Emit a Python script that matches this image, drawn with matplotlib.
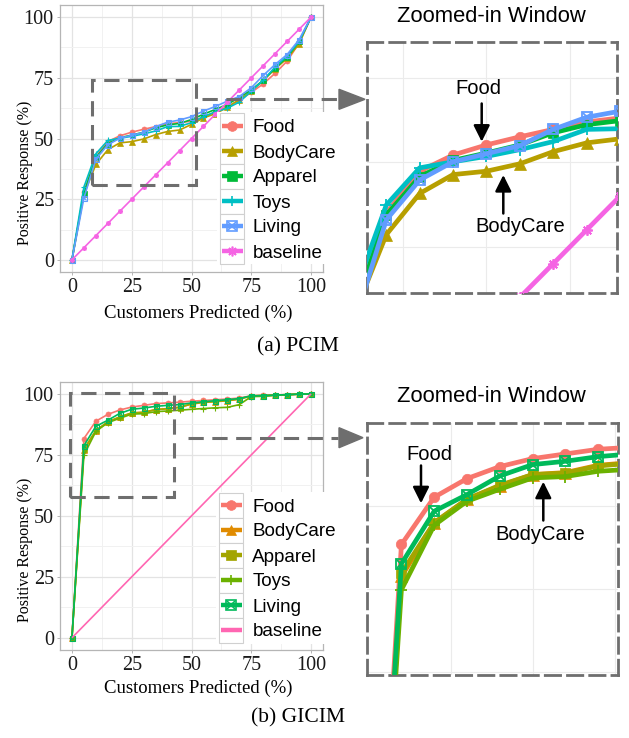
import matplotlib
matplotlib.use('Agg')
import matplotlib.pyplot as plt
from matplotlib.lines import Line2D
from matplotlib.patches import Rectangle, Polygon, FancyArrowPatch

W, H, DPI = 629, 738, 100

# ---------------- data ----------------
x_pct = [0, 5, 10, 15, 20, 25, 30, 35, 40, 45, 50, 55, 60, 65, 70, 75, 80, 85, 90, 95, 100]
series_names = ['Food', 'BodyCare', 'Apparel', 'Toys', 'Living', 'baseline']

pcim_food = [0, 28, 42.5, 48.7, 51.1, 52.6, 53.8, 54.9, 56.0, 56.6, 57.1, 58.8, 60.9, 63.2, 65.7, 69.0, 72.5, 76.9, 81.9, 89.3, 100]
pcim_bodycare = [0, 27, 39.3, 45.4, 48.2, 48.7, 49.8, 51.6, 52.9, 53.5, 55.8, 58.5, 60.2, 62.9, 66.0, 69.5, 73.9, 78.7, 83.0, 89.0, 100]
pcim_apparel = [0, 27.5, 42.2, 47.9, 50.3, 51.4, 52.6, 54.4, 55.6, 56.2, 57.8, 60.0, 62.0, 64.0, 67.0, 70.0, 74.0, 79.0, 83.5, 90.0, 100]
pcim_toys = [0, 30, 43.7, 49.2, 50.1, 50.9, 51.9, 53.1, 54.9, 55.0, 56.5, 59.0, 61.0, 62.5, 65.0, 69.5, 74.0, 79.5, 84.0, 90.0, 100]
pcim_living = [0, 25.5, 41.5, 47.4, 50.1, 51.3, 52.5, 54.9, 56.7, 57.6, 59.0, 61.3, 63.2, 65.4, 67.3, 70.9, 76.0, 80.5, 84.6, 90.7, 100]
pcim_baseline = [0, 5, 10, 15, 20, 25, 30, 35, 40, 45, 50, 55, 60, 65, 70, 75, 80, 85, 90, 95, 100]

gicim_food = [0, 81.7, 88.8, 91.6, 93.4, 94.6, 95.3, 96.0, 96.3, 96.6, 97.0, 97.3, 97.6, 97.9, 98.3, 99.2, 99.4, 99.6, 99.7, 99.9, 100]
gicim_bodycare = [0, 76.9, 84.9, 88.5, 90.5, 92.2, 92.5, 93.6, 94.0, 94.6, 95.8, 96.5, 96.8, 97.2, 97.8, 99.2, 99.3, 99.5, 99.7, 99.9, 100]
gicim_apparel = [0, 77.4, 85.0, 88.5, 90.6, 92.2, 92.4, 93.5, 93.9, 94.4, 95.9, 96.6, 96.9, 97.3, 97.9, 99.2, 99.3, 99.5, 99.7, 99.9, 100]
gicim_toys = [0, 74.9, 84.6, 88.2, 90.0, 91.7, 91.9, 92.7, 93.0, 93.3, 93.7, 94.0, 94.3, 94.5, 95.6, 98.9, 99.0, 99.4, 99.6, 99.9, 100]
gicim_living = [0, 78.8, 86.7, 89.2, 92.0, 93.7, 94.2, 94.9, 95.3, 95.6, 96.3, 96.8, 97.2, 97.6, 98.1, 99.2, 99.3, 99.5, 99.7, 99.9, 100]
gicim_baseline = [0, 5, 10, 15, 20, 25, 30, 35, 40, 45, 50, 55, 60, 65, 70, 75, 80, 85, 90, 95, 100]

tick_vals = [0, 25, 50, 75, 100]
tick_labels = ['0', '25', '50', '75', '100']

pcim_colors = ['#F8766D', '#B79F00', '#00BA38', '#00BFC4', '#619CFF', '#F564E3']
gicim_colors = ['#F8766D', '#E08B00', '#A3A500', '#6BB100', '#00B95A', '#FF66B2']
pcim_markers = ['o', '^', 's', '+', 'sx', 'ast']
gicim_markers = ['o', '^', 's', '+', 'sx', None]

SERIF = 'Liberation Serif'
SANS = 'Liberation Sans'
DASH_GRAY = '#6E6E6E'

fig = plt.figure(figsize=(W / DPI, H / DPI), dpi=DPI)
fig.patch.set_facecolor('white')


def fx(px):
    return px / W


def fy(py):
    return 1 - py / H


def add_axes_px(x0, y0, x1, y1):
    return fig.add_axes([fx(x0), fy(y1), (x1 - x0) / W, (y1 - y0) / H])


def _mk(target, xs, ys, transform, **kw):
    if transform is None:
        target.plot(xs, ys, **kw)
    else:
        fig.add_artist(Line2D(xs, ys, transform=transform, **kw))


def draw_marker(target, xs, ys, color, marker, ms, mew, z, transform=None):
    if marker is None:
        return
    base = dict(ls='none', zorder=z)
    if marker == 'sx':
        _mk(target, xs, ys, transform, marker='s', ms=ms, mfc='none', mec=color, mew=mew, **base)
        _mk(target, xs, ys, transform, marker='x', ms=ms * 0.85, mec=color, mew=mew, **base)
    elif marker == 'ast':
        _mk(target, xs, ys, transform, marker=(8, 2, 0), ms=ms, mec=color, mew=mew, **base)
    elif marker == '+':
        _mk(target, xs, ys, transform, marker='+', ms=ms * 1.1, mec=color, mew=mew, **base)
    else:
        sz = ms * (1.1 if marker == '^' else 1.0)
        _mk(target, xs, ys, transform, marker=marker, ms=sz, mfc=color, mec=color, mew=0.5, **base)


def plot_all(ax, data, colors, markers, lw, ms, mew):
    for i, (ys, c, m) in enumerate(zip(data, colors, markers)):
        ax.plot(x_pct, ys, color=c, lw=lw, zorder=3 + i, solid_joinstyle='round', solid_capstyle='butt')
        draw_marker(ax, x_pct, ys, c, m, ms, mew, 3.5 + i)


def style_main(ax):
    ax.set_xticks(tick_vals)
    ax.set_xticklabels(tick_labels)
    ax.set_yticks(tick_vals)
    ax.set_yticklabels(tick_labels)
    ax.set_xticks([12.5, 37.5, 62.5, 87.5], minor=True)
    ax.set_yticks([12.5, 37.5, 62.5, 87.5], minor=True)
    ax.set_xlim(-5, 105)
    ax.set_ylim(-5, 105)
    ax.grid(True, which='major', color='#E3E3E3', lw=0.9, zorder=0)
    ax.grid(True, which='minor', color='#F1F1F1', lw=0.7, zorder=0)
    ax.set_axisbelow(True)
    for s in ax.spines.values():
        s.set_color('#B5B5B5')
        s.set_linewidth(0.9)
    ax.tick_params(which='major', length=2.5, width=0.7, color='#B5B5B5', pad=2,
                   labelsize=14.5, labelcolor='#1A1A1A', labelfontfamily=SERIF)
    ax.tick_params(which='minor', length=0)


def style_zoom(ax, xlim, ylim):
    ax.set_xticks([12.5, 25, 37.5])
    ax.set_yticks([37.5, 50, 62.5, 75, 87.5])
    ax.set_xlim(*xlim)
    ax.set_ylim(*ylim)
    ax.grid(True, color='#EBEBEB', lw=0.8, zorder=0)
    ax.set_axisbelow(True)
    ax.tick_params(length=0, labelbottom=False, labelleft=False)
    for s in ax.spines.values():
        s.set_color(DASH_GRAY)
        s.set_linewidth(2.0)
        s.set_linestyle((0, (5.5, 2.5)))


def dashed_line_px(xs, ys):
    fig.add_artist(Line2D([fx(v) for v in xs], [fy(v) for v in ys], transform=fig.transFigure,
                          color=DASH_GRAY, lw=2.2, ls=(0, (5, 2.8)), zorder=20))


def arrowhead_px(x0, x1, yc, half):
    fig.add_artist(Polygon([[fx(x0), fy(yc - half)], [fx(x1), fy(yc)], [fx(x0), fy(yc + half)]],
                           closed=True, transform=fig.transFigure, facecolor=DASH_GRAY,
                           edgecolor=DASH_GRAY, zorder=20))


def legend_px(x_key0, y_first, colors, markers):
    step = 25
    key_w = 24
    n = len(series_names)
    fig.add_artist(Rectangle((fx(x_key0 - 3), fy(y_first + (n - 1) * step + step / 2 + 1)),
                             (120) / W, (n * step + 2) / H, transform=fig.transFigure,
                             facecolor='white', edgecolor='none', zorder=30))
    for i, (name, c, m) in enumerate(zip(series_names, colors, markers)):
        yc = y_first + i * step
        fig.add_artist(Rectangle((fx(x_key0), fy(yc + step / 2)), key_w / W, step / H,
                                 transform=fig.transFigure, facecolor='white',
                                 edgecolor='#D0D0D0', lw=0.8, zorder=31))
        fig.add_artist(Line2D([fx(x_key0 + 1.5), fx(x_key0 + key_w - 1.5)], [fy(yc), fy(yc)],
                              transform=fig.transFigure, color=c, lw=3.2, zorder=32,
                              solid_capstyle='butt'))
        draw_marker(None, [fx(x_key0 + key_w / 2)], [fy(yc)], c, m, 7.0, 1.2, 33,
                    transform=fig.transFigure)
        fig.text(fx(x_key0 + 33), fy(yc), name, family=SANS, fontsize=13.6, color='black',
                 ha='left', va='center_baseline', zorder=34)


def annotate_arrow(x, y0, y1):
    fig.add_artist(FancyArrowPatch((fx(x), fy(y0)), (fx(x), fy(y1)), transform=fig.transFigure,
                                   arrowstyle='-|>,head_length=0.7,head_width=0.35',
                                   mutation_scale=14, color='black', lw=1.8, zorder=40,
                                   shrinkA=0, shrinkB=0))


# ---------------- (a) PCIM ----------------
pcim_data = [pcim_food, pcim_bodycare, pcim_apparel, pcim_toys, pcim_living, pcim_baseline]
ax1 = add_axes_px(60, 5, 323, 272)
style_main(ax1)
plot_all(ax1, pcim_data, pcim_colors, pcim_markers, lw=1.2, ms=3.6, mew=0.8)
ax1.add_patch(Rectangle((8.3, 31.0), 43.4, 43.0, fill=False, edgecolor=DASH_GRAY, lw=2.2,
                        ls=(0, (5, 2.8)), zorder=15))
fig.text(fx(25), fy(173), 'Positive Response (%)', rotation=90, family=SERIF, fontsize=11.5,
         ha='center', va='center')
fig.text(fx(198), fy(313), 'Customers Predicted (%)', family=SERIF, fontsize=13.5,
         ha='center', va='center')
fig.text(fx(298), fy(347), '(a) PCIM', family=SERIF, fontsize=15.5, ha='center', va='center')

z1 = add_axes_px(367.3, 41.7, 616.7, 293.3)
style_zoom(z1, (7.15, 44.5), (30.6, 67.9))
plot_all(z1, pcim_data, pcim_colors, pcim_markers, lw=3.4, ms=7.5, mew=1.3)
fig.text(fx(491), fy(17), 'Zoomed-in Window', family=SANS, fontsize=15.8, ha='center', va='center')

dashed_line_px([201.7, 338], [99.3, 99.3])
arrowhead_px(339, 365, 99.3, 10)
legend_px(220, 126, pcim_colors, pcim_markers)

fig.text(fx(478.5), fy(89), 'Food', family=SANS, fontsize=14.5, ha='center', va='center')
annotate_arrow(481.7, 103.5, 141.7)
fig.text(fx(520.5), fy(226.5), 'BodyCare', family=SANS, fontsize=14.5, ha='center', va='center')
annotate_arrow(503.3, 213.5, 175)

# ---------------- (b) GICIM ----------------
gicim_data = [gicim_food, gicim_bodycare, gicim_apparel, gicim_toys, gicim_living, gicim_baseline]
ax2 = add_axes_px(60, 381.7, 323, 650)
style_main(ax2)
plot_all(ax2, gicim_data, gicim_colors, gicim_markers, lw=1.2, ms=3.6, mew=0.8)
ax2.add_patch(Rectangle((-0.7, 57.8), 43.2, 42.5, fill=False, edgecolor=DASH_GRAY, lw=2.2,
                        ls=(0, (5, 2.8)), zorder=15))
fig.text(fx(25), fy(550), 'Positive Response (%)', rotation=90, family=SERIF, fontsize=11.5,
         ha='center', va='center')
fig.text(fx(198), fy(688), 'Customers Predicted (%)', family=SERIF, fontsize=13.5,
         ha='center', va='center')
fig.text(fx(298), fy(718), '(b) GICIM', family=SERIF, fontsize=15.5, ha='center', va='center')

z2 = add_axes_px(367.3, 423.3, 617.7, 675)
style_zoom(z2, (-0.2, 37.96), (62.1, 99.9))
plot_all(z2, gicim_data, gicim_colors, gicim_markers, lw=3.4, ms=7.5, mew=1.3)
fig.text(fx(491), fy(396), 'Zoomed-in Window', family=SANS, fontsize=15.8, ha='center', va='center')

dashed_line_px([188.3, 338], [437.7, 437.7])
arrowhead_px(339, 363, 437.7, 10)
legend_px(219.3, 505, gicim_colors, gicim_markers)

fig.text(fx(429), fy(454), 'Food', family=SANS, fontsize=14.5, ha='center', va='center')
annotate_arrow(421, 465.5, 503.3)
fig.text(fx(540.5), fy(534), 'BodyCare', family=SANS, fontsize=14.5, ha='center', va='center')
annotate_arrow(543.3, 520.5, 481.7)

fig.savefig('out.png', dpi=DPI, facecolor='white')
